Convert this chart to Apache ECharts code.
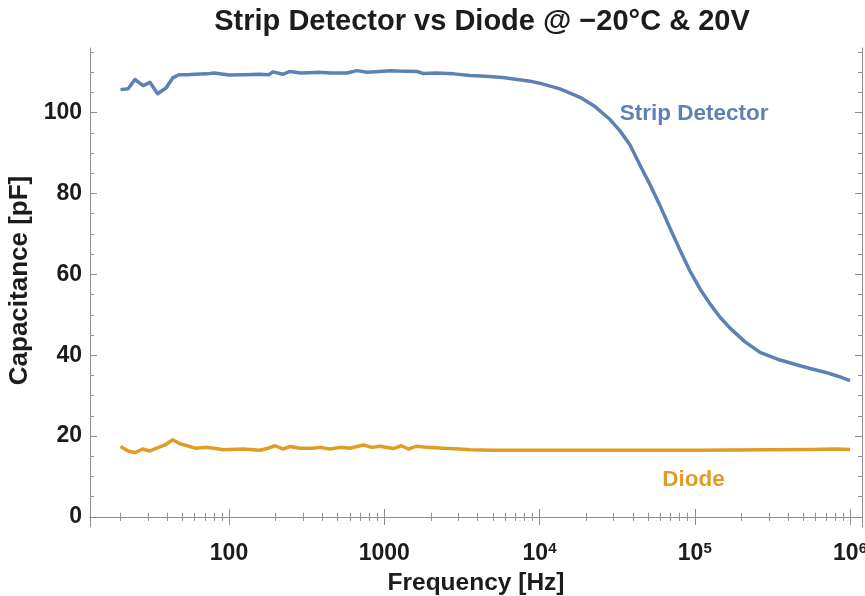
<!DOCTYPE html>
<html>
<head>
<meta charset="utf-8">
<script src="https://cdn.jsdelivr.net/npm/echarts@6/dist/echarts.min.js"></script>
<style>
html,body{margin:0;padding:0;background:#fff;}
#chart{width:865px;height:596px;}
</style>
</head>
<body>
<div id="chart"></div>
<script>
// ---- data ----
var stripFreq = [20, 22.4, 24.8, 28, 31, 34.7, 39.3, 43.4, 47.6, 53.4, 60, 72, 80, 92, 100, 125, 158, 180, 192, 222, 247, 290, 330, 380, 450, 575, 667, 775, 940, 1100, 1230, 1620, 1780, 2180, 2800, 3570, 4500, 5800, 7200, 8700, 10000, 13550, 18240, 22780, 28460, 33000, 38280, 44390, 51500, 59740, 69290, 80360, 93200, 108100, 125400, 145400, 168700, 210700, 263300, 354100, 476300, 569000, 690200, 836800, 1000000];
var stripCap = [105.7, 105.9, 108.2, 106.7, 107.5, 104.7, 106.1, 108.6, 109.4, 109.4, 109.5, 109.6, 109.8, 109.5, 109.3, 109.4, 109.5, 109.4, 110.1, 109.5, 110.2, 109.8, 109.9, 110.0, 109.8, 109.8, 110.4, 110.0, 110.2, 110.4, 110.3, 110.2, 109.7, 109.8, 109.6, 109.2, 109.0, 108.7, 108.2, 107.8, 107.3, 105.9, 103.8, 101.5, 98.3, 95.5, 92.0, 87.0, 82.2, 77.0, 71.4, 66.0, 60.8, 56.4, 52.7, 49.4, 46.7, 43.3, 40.7, 38.8, 37.4, 36.6, 35.8, 34.8, 33.7];

var diodeFreq = [20, 22.4, 24.8, 27.8, 30.7, 34.2, 38.7, 43.4, 48.3, 53.8, 60.4, 71.8, 80, 91.9, 124, 158, 179, 198, 222, 247, 287, 348, 386, 447, 519, 602, 733, 830, 940, 1140, 1290, 1430, 1620, 1880, 2400, 3080, 3570, 5000, 10000, 30000, 100000, 300000, 577000, 800000, 1000000];
var diodeCap = [17.4, 16.3, 15.9, 16.8, 16.3, 17.0, 17.8, 19.1, 18.1, 17.6, 17.0, 17.2, 17.0, 16.6, 16.8, 16.5, 17.0, 17.6, 16.8, 17.4, 17.0, 17.0, 17.2, 16.8, 17.2, 17.0, 17.8, 17.2, 17.5, 16.9, 17.6, 16.8, 17.5, 17.2, 17.0, 16.8, 16.6, 16.5, 16.5, 16.5, 16.5, 16.6, 16.7, 16.8, 16.7];

var xMajorTicks = [100, 1000, 10000, 100000, 1000000];
var xMinorTicks = [20, 30, 40, 50, 60, 70, 80, 90, 200, 300, 400, 500, 600, 700, 800, 900, 2000, 3000, 4000, 5000, 6000, 7000, 8000, 9000, 20000, 30000, 40000, 50000, 60000, 70000, 80000, 90000, 200000, 300000, 400000, 500000, 600000, 700000, 800000, 900000];
var yMajorTicks = [0, 20, 40, 60, 80, 100];
var yMinorTicks = [5, 10, 15, 25, 30, 35, 45, 50, 55, 65, 70, 75, 85, 90, 95, 105, 110, 115];

var titleText = 'Strip Detector vs Diode @ \u221220\u00B0C & 20V';
var xName = 'Frequency [Hz]';
var yName = 'Capacitance [pF]';
var stripName = 'Strip Detector';
var diodeName = 'Diode';

// ---- styling ----
var FONT = "'Liberation Sans', Arial, sans-serif";
var frameColor = '#8f8f8f';
var labelColor = '#1c1c1c';
var blue = '#5e81b5';
var orange = '#e19c24';
var xMin = 12.73, xMax = 1.194e6;
var yMin = -2.5, yMax = 116;

function pairs(xs, ys) { return xs.map(function (x, i) { return [x, ys[i]]; }); }

function xLabel(v) {
  var e = Math.round(Math.log10(v));
  if (e <= 3) return '{n|' + Math.round(v) + '}';
  return '{n|10}{s|' + e + '}';
}

function xAxisDef(pos, ticks, len, showLine, showLabel) {
  return {
    type: 'log', logBase: 10, min: xMin, max: xMax, position: pos, gridIndex: 0,
    axisLine: { show: showLine, lineStyle: { color: frameColor, width: 1 } },
    axisTick: { show: true, inside: true, length: len, customValues: ticks, lineStyle: { color: frameColor, width: 1 } },
    axisLabel: showLabel ? {
      show: true, customValues: ticks, margin: 14, formatter: xLabel, hideOverlap: false,
      rich: {
        n: { fontFamily: FONT, fontSize: 23, fontWeight: 'bold', color: labelColor, lineHeight: 26 },
        s: { fontFamily: FONT, fontSize: 15, fontWeight: 'bold', color: labelColor, lineHeight: 15, verticalAlign: 'top' }
      }
    } : { show: false },
    splitLine: { show: false }, minorTick: { show: false }, minorSplitLine: { show: false }
  };
}
function yAxisDef(pos, ticks, len, showLine, showLabel) {
  return {
    type: 'value', min: yMin, max: yMax, position: pos, gridIndex: 0,
    axisLine: { show: showLine, lineStyle: { color: frameColor, width: 1 } },
    axisTick: { show: true, inside: true, length: len, customValues: ticks, lineStyle: { color: frameColor, width: 1 } },
    axisLabel: showLabel ? {
      show: true, customValues: ticks, margin: 8,
      fontFamily: FONT, fontSize: 23, fontWeight: 'bold', color: labelColor
    } : { show: false },
    splitLine: { show: false }
  };
}

var xAxes = [
  xAxisDef('bottom', xMajorTicks, 8, true, true),
  xAxisDef('bottom', xMinorTicks, 4, false, false),
  xAxisDef('top', xMajorTicks, 8, true, false),
  xAxisDef('top', xMinorTicks, 4, false, false)
];
xAxes[0].name = xName;
xAxes[0].nameLocation = 'middle';
xAxes[0].nameGap = 43;
xAxes[0].nameTextStyle = { fontFamily: FONT, fontSize: 24.5, fontWeight: 'bold', color: labelColor };

var yAxes = [
  yAxisDef('left', yMajorTicks, 7, true, true),
  yAxisDef('left', yMinorTicks, 4, false, false),
  yAxisDef('right', yMajorTicks, 7, true, false),
  yAxisDef('right', yMinorTicks, 4, false, false)
];
yAxes[0].name = yName;
yAxes[0].nameLocation = 'middle';
yAxes[0].nameGap = 57;
yAxes[0].nameTextStyle = { fontFamily: FONT, fontSize: 26, fontWeight: 'bold', color: labelColor, padding: [0, 0, 0, 14] };

var chart = echarts.init(document.getElementById('chart'), null, { renderer: 'canvas' });
chart.setOption({
  backgroundColor: '#ffffff',
  animation: false,
  title: {
    text: titleText, left: 477, top: 2, textAlign: 'center',
    textStyle: { fontFamily: FONT, fontSize: 29, fontWeight: 'bold', color: labelColor }
  },
  grid: { left: 90, right: 3, top: 48, bottom: 69, containLabel: false, outerBoundsMode: 'none' },
  xAxis: xAxes,
  yAxis: yAxes,
  series: [
    {
      name: stripName, type: 'line', xAxisIndex: 0, yAxisIndex: 0,
      data: pairs(stripFreq, stripCap), showSymbol: false, symbol: 'none',
      lineStyle: { color: blue, width: 3.5, join: 'round' }, itemStyle: { color: blue },
      markPoint: {
        symbol: 'circle', symbolSize: 0,
        label: { show: true, position: 'inside', formatter: stripName, fontFamily: FONT, fontSize: 22.5, fontWeight: 'bold', color: blue },
        data: [{ coord: [99000, 99.6] }]
      }
    },
    {
      name: diodeName, type: 'line', xAxisIndex: 0, yAxisIndex: 0,
      data: pairs(diodeFreq, diodeCap), showSymbol: false, symbol: 'none',
      lineStyle: { color: orange, width: 3.5, join: 'round' }, itemStyle: { color: orange },
      markPoint: {
        symbol: 'circle', symbolSize: 0,
        label: { show: true, position: 'inside', formatter: diodeName, fontFamily: FONT, fontSize: 22.5, fontWeight: 'bold', color: orange },
        data: [{ coord: [98000, 9.3] }]
      }
    }
  ]
});
</script>
</body>
</html>
